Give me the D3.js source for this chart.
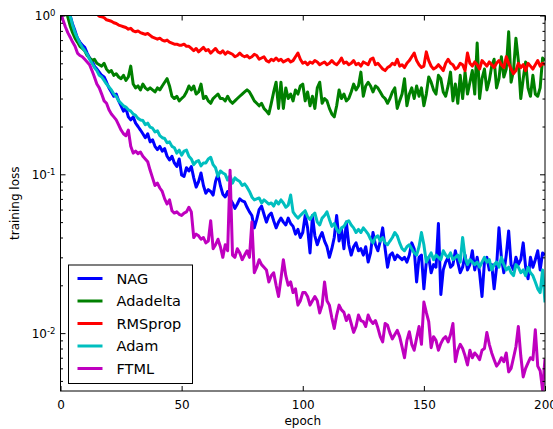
<!DOCTYPE html>
<html>
<head>
<meta charset="utf-8">
<title>training loss</title>
<script src="https://d3js.org/d3.v7.min.js"></script>
<style>
  body { margin: 0; background: #fff; }
  text { font-family: "DejaVu Sans", sans-serif; fill: #000; }
</style>
</head>
<body>
<div id="chart"></div>
<script>
// per-epoch training loss
var names = ["NAG", "Adadelta", "RMSprop", "Adam", "FTML"];
var colors = ["#0000ff", "#008000", "#ff0000", "#00bfbf", "#bf00bf"];

var nag = [
  2.30,1.80,1.40,1.15,1.00,0.88,0.80,0.72,0.68,0.65,0.63,
  0.58,0.54,0.52,0.48,0.46,0.44,0.42,0.41,0.38,0.35,0.33,0.31,0.32,0.29,0.27,0.25,0.26,0.23,0.22,0.23,
  0.21,0.20,0.19,0.18,0.17,0.18,0.16,0.165,0.15,0.143,0.15,0.14,0.145,0.13,0.123,0.13,0.118,0.112,0.125,0.099,
  0.097,0.11,0.105,0.112,0.095,0.083,0.09,0.102,0.085,0.076,0.08,0.078,0.074,0.09,0.10,0.085,0.075,0.072,0.078,0.07,
  0.066,0.061,0.065,0.07,0.068,0.067,0.062,0.058,0.055,0.046,0.052,0.06,0.063,0.056,0.05,0.055,0.057,0.051,0.046,0.05,
  0.053,0.05,0.048,0.053,0.049,0.047,0.042,0.045,0.040,0.043,0.055,0.046,0.032,0.055,0.041,0.036,0.04,0.043,0.038,0.035,
  0.030,0.034,0.040,0.055,0.038,0.045,0.034,0.050,0.036,0.031,0.035,0.037,0.033,0.034,0.031,0.035,0.028,0.032,0.043,0.036,
  0.033,0.038,0.046,0.034,0.026,0.031,0.032,0.029,0.031,0.030,0.029,0.030,0.028,0.031,0.037,0.034,0.021,0.030,0.031,0.019,
  0.028,0.030,0.024,0.027,0.026,0.049,0.0175,0.025,0.028,0.030,0.026,0.027,0.033,0.028,0.024,0.026,0.031,0.025,0.027,0.033,
  0.025,0.030,0.024,0.017,0.028,0.030,0.025,0.027,0.019,0.026,0.046,0.030,0.024,0.031,0.044,0.027,0.025,0.030,0.027,0.029,
  0.037,0.026,0.022,0.030,0.026,0.029,0.033,0.025,0.032,0.031
];

var adadelta = [
  2.30,1.60,1.20,0.98,0.86,0.78,0.72,0.68,0.64,0.62,0.60,
  0.56,0.54,0.52,0.53,0.50,0.49,0.48,0.50,0.46,0.44,0.45,0.42,0.43,0.41,0.40,0.42,0.39,0.41,0.48,0.37,
  0.35,0.36,0.34,0.37,0.35,0.34,0.35,0.34,0.33,0.35,0.34,0.36,0.38,0.40,0.36,0.31,0.30,0.31,0.29,0.30,
  0.31,0.33,0.36,0.34,0.36,0.32,0.33,0.37,0.30,0.31,0.29,0.28,0.30,0.31,0.32,0.30,0.30,0.29,0.31,0.29,
  0.28,0.29,0.30,0.31,0.32,0.33,0.34,0.33,0.31,0.29,0.28,0.27,0.28,0.26,0.25,0.24,0.28,0.33,0.38,0.26,
  0.38,0.26,0.35,0.30,0.32,0.29,0.34,0.32,0.36,0.37,0.29,0.33,0.27,0.31,0.26,0.35,0.38,0.28,0.30,0.29,
  0.26,0.24,0.23,0.27,0.34,0.30,0.32,0.29,0.30,0.33,0.37,0.34,0.36,0.44,0.31,0.36,0.38,0.36,0.33,0.36,
  0.35,0.33,0.31,0.30,0.28,0.30,0.33,0.35,0.26,0.29,0.32,0.40,0.27,0.32,0.35,0.30,0.36,0.31,0.35,0.27,
  0.32,0.41,0.38,0.34,0.32,0.42,0.40,0.33,0.31,0.36,0.44,0.29,0.37,0.28,0.42,0.30,0.44,0.32,0.38,0.45,
  0.32,0.67,0.30,0.40,0.46,0.34,0.39,0.48,0.53,0.35,0.40,0.55,0.41,0.46,0.79,0.38,0.45,0.72,0.52,0.30,
  0.40,0.51,0.35,0.31,0.42,0.32,0.31,0.35,0.54,0.52
];

var rmsprop = [
  2.30,2.05,1.85,1.70,1.58,1.48,1.40,1.33,1.27,1.22,1.17,
  1.13,1.10,1.07,1.04,1.02,0.99,0.98,0.97,0.94,0.93,0.92,0.90,0.89,0.87,0.86,0.85,0.84,0.82,0.83,0.80,
  0.79,0.80,0.78,0.77,0.76,0.77,0.75,0.73,0.72,0.71,0.72,0.70,0.69,0.70,0.68,0.67,0.66,0.66,0.65,0.65,
  0.66,0.64,0.64,0.62,0.60,0.62,0.59,0.61,0.63,0.60,0.61,0.58,0.60,0.62,0.59,0.58,0.60,0.57,0.59,0.58,
  0.57,0.55,0.56,0.58,0.56,0.55,0.56,0.54,0.55,0.57,0.56,0.53,0.54,0.55,0.52,0.51,0.53,0.52,0.54,0.52,
  0.53,0.51,0.52,0.53,0.51,0.52,0.55,0.58,0.53,0.50,0.51,0.49,0.51,0.50,0.52,0.51,0.49,0.50,0.51,0.49,
  0.50,0.52,0.50,0.49,0.51,0.54,0.50,0.51,0.49,0.50,0.52,0.49,0.50,0.48,0.51,0.50,0.49,0.53,0.54,0.49,
  0.50,0.48,0.46,0.45,0.47,0.48,0.50,0.49,0.53,0.48,0.49,0.47,0.50,0.52,0.55,0.58,0.52,0.49,0.47,0.48,
  0.59,0.52,0.48,0.46,0.47,0.49,0.47,0.45,0.50,0.53,0.50,0.49,0.46,0.47,0.50,0.49,0.45,0.58,0.50,0.48,
  0.51,0.49,0.46,0.52,0.50,0.48,0.51,0.49,0.47,0.50,0.52,0.49,0.47,0.55,0.50,0.46,0.43,0.45,0.50,0.47,
  0.49,0.45,0.50,0.48,0.46,0.49,0.52,0.48,0.50,0.49
];

var adam = [
  2.30,1.80,1.40,1.15,0.99,0.87,0.78,0.72,0.67,0.63,0.60,
  0.57,0.53,0.50,0.47,0.45,0.42,0.41,0.39,0.37,0.355,0.34,0.32,0.31,0.29,0.28,0.27,0.265,0.255,0.25,0.24,
  0.235,0.225,0.22,0.218,0.205,0.21,0.198,0.195,0.185,0.188,0.175,0.17,0.168,0.158,0.16,0.15,0.147,0.136,0.142,0.132,
  0.14,0.142,0.13,0.125,0.115,0.12,0.122,0.113,0.118,0.118,0.125,0.128,0.115,0.11,0.097,0.105,0.102,0.10,0.092,0.098,
  0.088,0.095,0.092,0.09,0.085,0.087,0.083,0.078,0.072,0.069,0.070,0.071,0.066,0.069,0.067,0.065,0.066,0.063,0.068,0.065,
  0.069,0.066,0.062,0.064,0.074,0.058,0.055,0.053,0.055,0.057,0.059,0.054,0.052,0.055,0.057,0.05,0.048,0.053,0.055,0.058,
  0.052,0.047,0.049,0.045,0.043,0.046,0.047,0.050,0.051,0.048,0.046,0.043,0.045,0.043,0.046,0.044,0.042,0.039,0.037,0.040,
  0.041,0.038,0.040,0.037,0.036,0.038,0.040,0.043,0.041,0.037,0.034,0.033,0.035,0.036,0.034,0.032,0.031,0.035,0.043,0.036,
  0.028,0.030,0.032,0.029,0.031,0.030,0.029,0.033,0.031,0.030,0.032,0.029,0.030,0.031,0.028,0.040,0.030,0.027,0.029,0.028,
  0.027,0.028,0.026,0.028,0.030,0.028,0.029,0.025,0.027,0.028,0.026,0.030,0.027,0.025,0.026,0.024,0.023,0.027,0.026,0.024,
  0.025,0.023,0.026,0.024,0.023,0.021,0.019,0.018,0.025,0.0156
];

var ftml = [
  1.05,0.94,0.85,0.78,0.73,0.68,0.64,0.58,0.56,0.55,0.53,
  0.51,0.49,0.45,0.41,0.37,0.35,0.32,0.29,0.28,0.255,0.24,0.23,0.22,0.205,0.19,0.18,0.175,0.19,0.15,0.136,
  0.14,0.135,0.138,0.13,0.125,0.12,0.106,0.095,0.085,0.088,0.082,0.078,0.07,0.065,0.069,0.059,0.057,0.058,0.056,0.055,
  0.057,0.058,0.062,0.058,0.040,0.042,0.041,0.039,0.040,0.037,0.038,0.051,0.034,0.036,0.039,0.035,0.030,0.036,0.033,0.106,
  0.031,0.030,0.034,0.032,0.029,0.031,0.033,0.030,0.050,0.024,0.026,0.029,0.027,0.026,0.025,0.021,0.023,0.024,0.020,0.017,
  0.022,0.029,0.023,0.020,0.021,0.018,0.019,0.015,0.016,0.018,0.018,0.017,0.015,0.016,0.017,0.016,0.0134,0.015,0.021,0.016,
  0.015,0.0125,0.0107,0.013,0.015,0.014,0.0135,0.012,0.013,0.0115,0.0101,0.011,0.013,0.012,0.0118,0.011,0.013,0.012,0.0115,0.012,
  0.0108,0.0095,0.0088,0.0115,0.0112,0.010,0.0092,0.0098,0.0104,0.0095,0.0082,0.0070,0.0090,0.0102,0.0085,0.0078,0.0093,0.0110,0.0085,0.0157,
  0.0135,0.0118,0.0081,0.0095,0.0090,0.0078,0.0086,0.0092,0.0095,0.0088,0.0098,0.0115,0.0066,0.0078,0.0085,0.0080,0.0072,0.0063,0.0078,0.0070,
  0.0075,0.0072,0.0068,0.0078,0.0080,0.0101,0.0085,0.0075,0.0068,0.0062,0.0065,0.0070,0.0066,0.0075,0.0057,0.0060,0.0070,0.0082,0.0110,0.0072,
  0.0053,0.0060,0.0065,0.0070,0.0068,0.0105,0.0062,0.0058,0.0044,0.0069
];

var xTicks = [0, 50, 100, 150, 200];
var yMajor = [1, 0.1, 0.01];
var yExp = ["0", "-1", "-2"];

var series = [nag, adadelta, rmsprop, adam, ftml];

var w = 553, h = 429;
var margin = {top: 15.5, right: 8, bottom: 38, left: 60.5};
var wChart = w - margin.left - margin.right;
var hChart = h - margin.top - margin.bottom;

var x = d3.scaleLinear().domain([0, 200]).range([0, wChart]);
var y = d3.scaleLog().domain([0.00432, 1]).range([hChart, 0]);

// minor ticks 2..9 x 10^k inside the domain
var yMinor = [];
[0.001, 0.01, 0.1].forEach(function(p) {
  for (var k = 2; k <= 9; k++) {
    var v = +(k * p).toPrecision(3);
    if (v >= y.domain()[0] && v <= 1) yMinor.push(v);
  }
});

var svg = d3.select("#chart").append("svg")
    .attr("width", w)
    .attr("height", h);

var chart = svg.append("g")
    .attr("transform", "translate(" + margin.left + "," + margin.top + ")");

chart.append("clipPath").attr("id", "clip")
  .append("rect").attr("width", wChart).attr("height", hChart);

var line = d3.line()
    .x(function(d, i) { return x(i); })
    .y(function(d) { return y(d); });

chart.append("g").attr("clip-path", "url(#clip)")
  .selectAll(".series")
  .data(series)
  .enter()
  .append("path")
    .attr("class", "series")
    .attr("d", line)
    .attr("fill", "none")
    .attr("stroke", function(d, i) { return colors[i]; })
    .attr("stroke-width", 3)
    .attr("stroke-linejoin", "round");

// ticks, all pointing inward
function styleAxis(g) {
  g.select(".domain").remove();
  g.selectAll("line").attr("stroke", "#000").attr("stroke-width", 1);
}

chart.append("g").attr("transform", "translate(0," + hChart + ")")
  .call(d3.axisBottom(x).tickValues(xTicks).tickSize(-5).tickPadding(9).tickFormat(d3.format("d")))
  .call(styleAxis)
  .selectAll("text").attr("font-size", 12).attr("font-family", "DejaVu Sans");

chart.append("g")
  .call(d3.axisTop(x).tickValues(xTicks).tickSize(-5).tickFormat(""))
  .call(styleAxis);

chart.append("g")
  .call(d3.axisLeft(y).tickValues(yMinor).tickSize(-2.5).tickFormat(""))
  .call(styleAxis);
chart.append("g").attr("transform", "translate(" + wChart + ",0)")
  .call(d3.axisRight(y).tickValues(yMinor).tickSize(-2.5).tickFormat(""))
  .call(styleAxis);

var yl = chart.append("g")
  .call(d3.axisLeft(y).tickValues(yMajor).tickSize(-5).tickFormat(""))
  .call(styleAxis);
chart.append("g").attr("transform", "translate(" + wChart + ",0)")
  .call(d3.axisRight(y).tickValues(yMajor).tickSize(-5).tickFormat(""))
  .call(styleAxis);

yl.selectAll(".tick").each(function(d, i) {
  var t = d3.select(this).append("text")
      .attr("x", -5)
      .attr("y", 0)
      .attr("dy", "0.35em")
      .attr("text-anchor", "end")
      .attr("font-size", 12);
  t.append("tspan").text("10");
  t.append("tspan").attr("dy", "-0.45em").attr("font-size", 8.5).text(yExp[i]);
});

chart.append("rect")
    .attr("width", wChart)
    .attr("height", hChart)
    .attr("fill", "none")
    .attr("stroke", "#000")
    .attr("stroke-width", 1);

chart.append("text")
    .attr("x", wChart / 2)
    .attr("y", hChart + 34)
    .attr("text-anchor", "middle")
    .attr("font-size", 12)
    .text("epoch");

chart.append("text")
    .attr("transform", "translate(" + (-42) + "," + (hChart / 2) + ") rotate(-90)")
    .attr("text-anchor", "middle")
    .attr("font-size", 12)
    .text("training loss");

// legend
var legend = chart.append("g").attr("transform", "translate(8,249.5)");
legend.append("rect")
    .attr("width", 124)
    .attr("height", 118.5)
    .attr("fill", "#fff")
    .attr("stroke", "#000")
    .attr("stroke-width", 1);

var item = legend.selectAll(".item")
  .data(names)
  .enter()
  .append("g")
    .attr("class", "item")
    .attr("transform", function(d, i) { return "translate(0," + (13.5 + i * 22.5) + ")"; });

item.append("line")
    .attr("x1", 9).attr("x2", 34)
    .attr("stroke", function(d, i) { return colors[i]; })
    .attr("stroke-width", 3);

item.append("text")
    .attr("x", 48)
    .attr("dy", "0.36em")
    .attr("font-size", 14.5)
    .text(function(d) { return d; });
</script>
</body>
</html>
